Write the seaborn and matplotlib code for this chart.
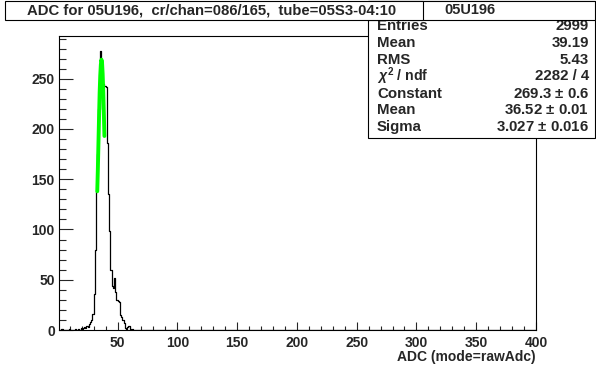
import numpy as np
import pandas as pd
import matplotlib
matplotlib.use("Agg")
import matplotlib.pyplot as plt
import seaborn as sns
from matplotlib.patches import Rectangle
from matplotlib.ticker import MultipleLocator

# ADC histogram (bin low edge -> entries)
adc = [3, 9, 14, 17, 19, 20, 21, 22, 23, 24, 25, 26, 27, 28, 29, 30, 31, 32, 33, 34,
       35, 36, 37, 38, 39, 40, 41, 42, 43, 44, 45, 46, 47, 48, 49, 50, 51, 52, 53, 54,
       55, 56, 58, 59, 60, 62]
counts = [1, 1, 1, 1, 2, 1, 2, 3, 2, 4, 3, 6, 8, 10, 16, 36, 80, 138, 175, 220,
          278, 262, 235, 245, 243, 242, 186, 135, 98, 60, 44, 42, 52, 38, 30, 29, 28, 15, 13, 10,
          7, 2, 3, 4, 1, 1]

# gaussian fit curve (green)
fit_x = [33, 33.5, 34, 34.5, 35, 35.5, 36, 36.5, 37, 37.5, 38, 38.5, 39]
fit_y = [138, 160, 186, 212, 236, 253, 264, 269, 266, 255, 238, 216, 193]

title = "ADC for 05U196,  cr/chan=086/165,  tube=05S3-04:10"
stats_title = "05U196"
stats_labels = ["Entries", "Mean", "RMS", r"$\chi^{2}$ / ndf", "Constant", "Mean", "Sigma"]
stats_values = ["2999", "39.19", "5.43", "2282 / 4", "269.3 $\\pm$ 0.6",
                "36.52 $\\pm$ 0.01", "3.027 $\\pm$ 0.016"]

sns.set_style("ticks")
plt.rcParams["font.family"] = ["Liberation Sans", "DejaVu Sans"]
plt.rcParams["font.weight"] = "bold"
plt.rcParams["mathtext.fontset"] = "custom"
plt.rcParams["mathtext.rm"] = "Liberation Sans:bold"
plt.rcParams["mathtext.it"] = "Liberation Sans:italic"

W, H = 596, 368
fig = plt.figure(figsize=(W / 100, H / 100), dpi=100)
fig.patch.set_facecolor("white")


def fx(x):
    return x / W


def fy(y):
    return 1 - y / H


ax = fig.add_axes([fx(59), fy(330), (536 - 59) / W, (330 - 36) / H])
ax.set_facecolor("white")

hist = pd.DataFrame({"adc": adc, "counts": counts})
sns.histplot(data=hist, x="adc", weights="counts", binwidth=1, binrange=(0, 400),
             element="step", fill=False, color="black", linewidth=0.9, ax=ax)
sns.lineplot(x=fit_x, y=fit_y, color="#00ff00", linewidth=2.8, ax=ax)

ax.set_ylim(0, 292.5)
ax.set_ylabel("")
ax.set_xlabel("")
ax.xaxis.set_major_locator(MultipleLocator(50))
ax.xaxis.set_minor_locator(MultipleLocator(10))
ax.yaxis.set_major_locator(MultipleLocator(50))
ax.yaxis.set_minor_locator(MultipleLocator(10))
ax.tick_params(axis="x", which="major", direction="in", length=6, width=0.8,
               labelsize=10, pad=4)
ax.tick_params(axis="x", which="minor", direction="in", length=3, width=0.8)
ax.tick_params(axis="y", which="major", direction="in", length=10, width=0.8,
               labelsize=10, pad=3)
ax.tick_params(axis="y", which="minor", direction="in", length=5, width=0.8)
ax.set_xticks([50, 100, 150, 200, 250, 300, 350, 400])
ax.set_xlim(1, 400)
for sp in ax.spines.values():
    sp.set_linewidth(0.8)
    sp.set_color("black")
for lab in ax.get_xticklabels() + ax.get_yticklabels():
    lab.set_fontweight("bold")

fig.text(fx(536), fy(357), "ADC (mode=rawAdc)", ha="right", va="center",
         fontsize=10, fontweight="bold")

# stats box
fig.patches.append(Rectangle((fx(368), fy(138)), (595 - 368) / W, (138 - 1) / H,
                             transform=fig.transFigure, facecolor="white",
                             edgecolor="black", linewidth=0.8, zorder=5))
fig.text(fx(470), fy(10), stats_title, ha="center", va="center", fontsize=10.5,
         fontweight="bold", zorder=7)
rows_y = [26, 43, 60, 76.5, 93.5, 110, 127]
for i, (lab, val, yy) in enumerate(zip(stats_labels, stats_values, rows_y)):
    fs = 10.2 if i == 3 else 10.8
    fig.text(fx(377), fy(yy), lab, ha="left", va="center", fontsize=fs,
             fontweight="bold", zorder=6)
    fig.text(fx(589), fy(yy), val, ha="right", va="center", fontsize=10.8,
             fontweight="bold", zorder=6)
# header separator, drawn over the clipped first row
fig.patches.append(Rectangle((fx(368), fy(20)), (595 - 368) / W, 19 / H,
                             transform=fig.transFigure, facecolor="white",
                             edgecolor="black", linewidth=0.8, zorder=6.5))

# title box on top
fig.patches.append(Rectangle((fx(5), fy(20)), (423 - 5) / W, 19 / H,
                             transform=fig.transFigure, facecolor="white",
                             edgecolor="black", linewidth=0.8, zorder=8))
fig.text(fx(212), fy(10.5), title, ha="center", va="center", fontsize=10.7,
         fontweight="bold", zorder=9)

fig.savefig("out.png", dpi=100)
